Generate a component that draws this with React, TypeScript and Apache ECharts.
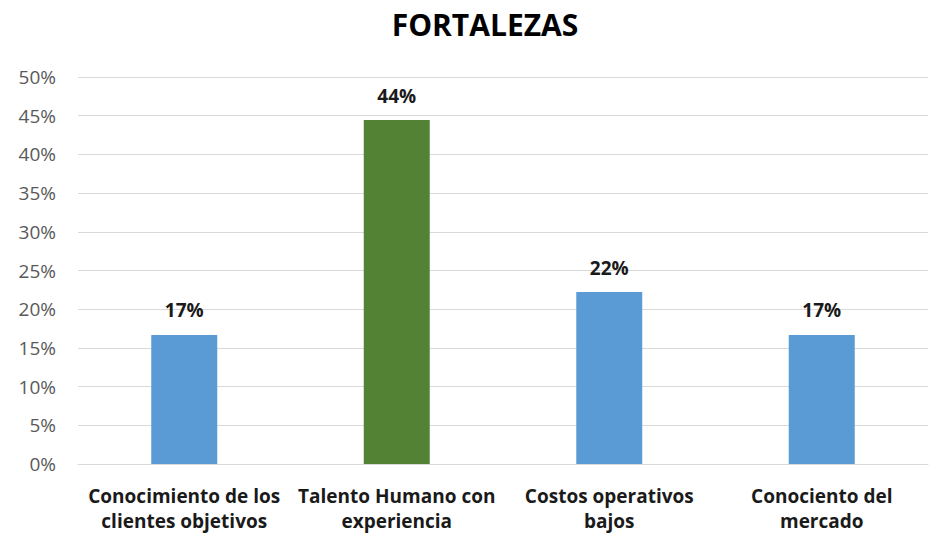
import React, { useEffect, useRef } from "react";
import * as echarts from "echarts";

const categories = [
  "Conocimiento de los\nclientes objetivos",
  "Talento Humano con\nexperiencia",
  "Costos operativos\nbajos",
  "Conociento del\nmercado",
];
const values = [0.1667, 0.4444, 0.2222, 0.1667];
const barColors = ["#5B9BD5", "#548235", "#5B9BD5", "#5B9BD5"];
const titleText = "FORTALEZAS";

export default function App() {
  const ref = useRef<HTMLDivElement>(null);
  useEffect(() => {
    if (!ref.current) return;
    const chart = echarts.init(ref.current, null, { renderer: "svg" });
    const font = "'Open Sans', sans-serif";
    chart.setOption({
      animation: false,
      backgroundColor: "#ffffff",
      title: {
        text: titleText,
        left: 480,
        top: 4,
        textAlign: "center",
        textStyle: { fontFamily: font, fontWeight: "bold", fontSize: 30, color: "#000000" },
      },
      grid: { left: 78, right: 20, top: 77, bottom: 90, containLabel: false },
      xAxis: {
        type: "category",
        data: categories,
        axisTick: { show: false },
        axisLine: { lineStyle: { color: "#d9d9d9", width: 1 } },
        axisLabel: {
          interval: 0,
          margin: 19,
          fontFamily: font,
          fontWeight: "bold",
          fontSize: 19,
          color: "#1a1a1a",
          lineHeight: 25,
        },
      },
      yAxis: {
        type: "value",
        min: 0,
        max: 0.5,
        interval: 0.05,
        axisLine: { show: false },
        axisTick: { show: false },
        splitLine: { lineStyle: { color: "#d9d9d9", width: 1 } },
        axisLabel: {
          margin: 22,
          fontFamily: font,
          fontSize: 19,
          color: "#595959",
          formatter: (v: number) => Math.round(v * 100) + "%",
        },
      },
      series: [
        {
          type: "bar",
          barWidth: 66,
          data: values.map((v, i) => ({ value: v, itemStyle: { color: barColors[i] } })),
          label: {
            show: true,
            position: "top",
            distance: 15,
            fontFamily: font,
            fontWeight: "bold",
            fontSize: 19,
            color: "#1a1a1a",
            formatter: (p: any) => Math.round(p.value * 100) + "%",
          },
        },
      ],
    });
    return () => chart.dispose();
  }, []);
  return (
    <div
      ref={ref}
      style={{ position: "fixed", left: 0, top: 0, width: 948, height: 554 }}
    />
  );
}
